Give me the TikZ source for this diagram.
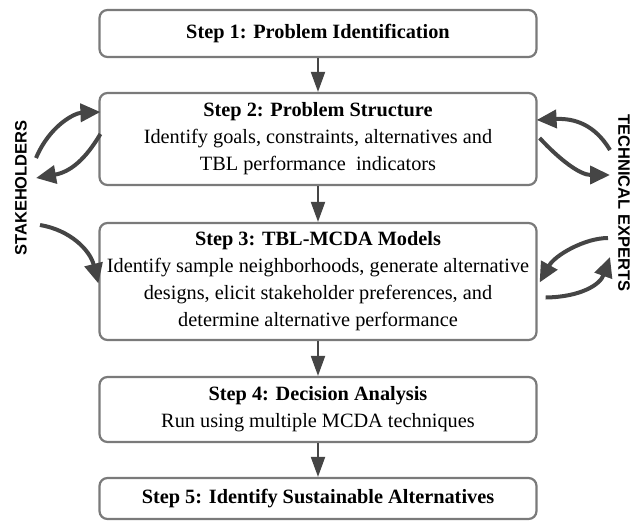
\documentclass[tikz,border=0pt]{standalone}
\usepackage{fontspec}
\setmainfont{Liberation Serif}
\newfontfamily\labelfont{Liberation Sans}
\usetikzlibrary{arrows.meta,calc}
\definecolor{boxgray}{HTML}{7A7A7A}
\definecolor{arrowgray}{HTML}{454545}
\begin{document}
\begin{tikzpicture}[x=1pt,y=-1pt,
  stepbox/.style={draw=boxgray, line width=2.2pt, rounded corners=8pt,
    minimum width=437pt, align=center, inner sep=0pt, fill=white,
    font=\fontsize{20.3}{27}\selectfont},
  flow/.style={draw=arrowgray, line width=2pt,
    -{Triangle[length=20pt,width=14pt]}},
  loop/.style={draw=arrowgray, line width=4pt,
    -{Triangle[length=20pt,width=18pt]}},
  side/.style={font=\labelfont\bfseries\fontsize{16.5}{16.5}\selectfont,
    inner sep=0pt}]
\useasboundingbox (0,0) rectangle (640,525);

% process steps
\node[stepbox, minimum height=47pt] (s1) at (318,33.5)
  {\textbf{Step 1: Problem Identification}};
\node[stepbox, minimum height=92pt] (s2) at (318,139)
  {\textbf{Step 2: Problem Structure}\\
   Identify goals, constraints, alternatives and\\
   TBL performance\ \ indicators};
\node[stepbox, minimum height=117pt] (s3) at (318,281.5)
  {\textbf{Step 3: TBL-MCDA Models}\\
   Identify sample neighborhoods, generate alternative\\
   designs, elicit stakeholder preferences, and\\
   determine alternative performance};
\node[stepbox, minimum height=65pt] (s4) at (318,409.5)
  {\textbf{Step 4: Decision Analysis}\\
   Run using multiple MCDA techniques};
\node[stepbox, minimum height=41pt] (s5) at (318,498.5)
  {\textbf{Step 5: Identify Sustainable Alternatives}};

% main flow
\draw[flow] (s1) -- (s2);
\draw[flow] (s2) -- (s3);
\draw[flow] (s3) -- (s4);
\draw[flow] (s4) -- (s5);

% side actors
\node[side, rotate=90] (stake) at (21,188) {STAKEHOLDERS};
\node[side, rotate=-90] (tech) at (624,203) {TECHNICAL EXPERTS};

% stakeholder exchanges
\coordinate (sa1) at (36,158);
\coordinate (sa2) at (36,178);
\coordinate (sa3) at (40,225);
\draw[loop] (sa1) .. controls (50,125) and (75,113) .. ($(s2.west)+(2,-27)$);
\draw[loop] ($(s2.west)+(2,-5)$) .. controls (85,160) and (70,172) .. (sa2);
\draw[loop] (sa3) .. controls (70,230) and (90,250) .. ($(s3.west)+(0,2)$);

% technical expert exchanges
\coordinate (ta1) at (610,150);
\coordinate (ta2) at (610,175);
\coordinate (ta3) at (608,238);
\coordinate (ta4) at (610,257);
\draw[loop] (ta1) .. controls (595,125) and (575,118) .. ($(s2.east)+(-1,-19)$);
\draw[loop] ($(s2.east)+(2,-1)$) .. controls (560,160) and (580,175) .. (ta2);
\draw[loop] (ta3) .. controls (585,238) and (555,255) .. ($(s3.east)+(2,1)$);
\draw[loop] ($(s3.east)+(8,16)$) .. controls (580,297) and (600,285) .. (ta4);
\end{tikzpicture}
\end{document}
